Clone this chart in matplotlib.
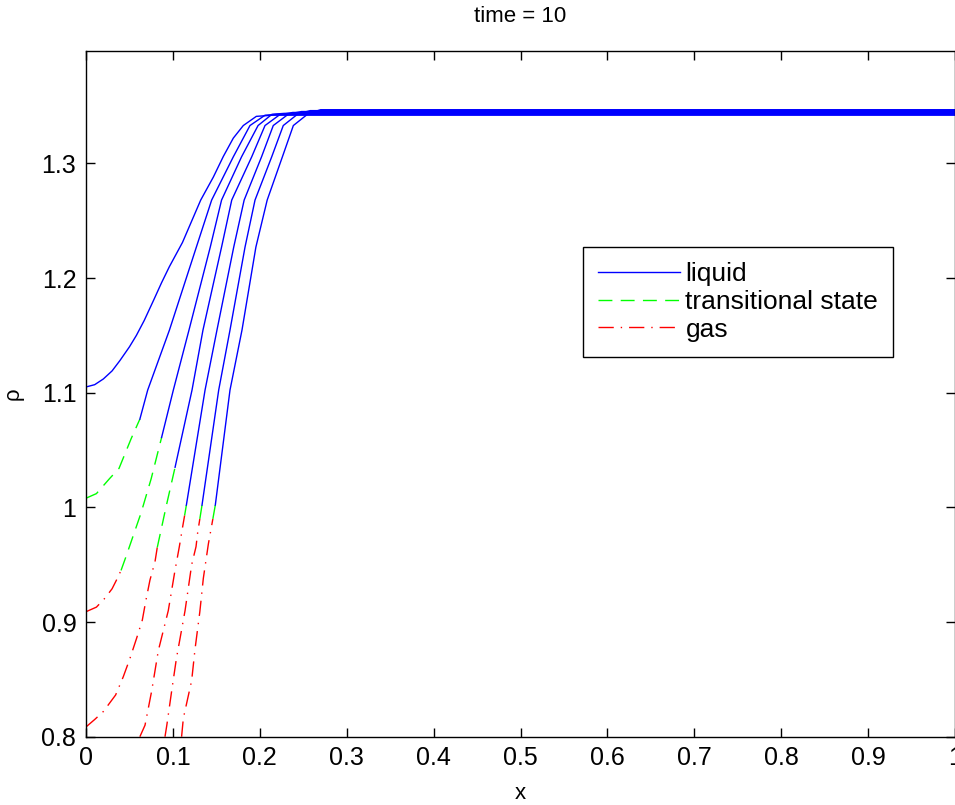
import numpy as np
import matplotlib
matplotlib.use("Agg")
import matplotlib.pyplot as plt
from matplotlib.lines import Line2D

plt.rcParams['font.family'] = ['Liberation Sans', 'DejaVu Sans']

# ---- data (x, rho) ----
# each curve: x, y, index where gas ends, index where transitional ends
c1_x = [0, 0.01, 0.02, 0.03, 0.039, 0.05, 0.058, 0.067, 0.078, 0.087, 0.096, 0.111, 0.132, 0.1465, 0.158, 0.1695, 0.181, 0.196, 0.215, 1.0]
c1_y = [1.105, 1.107, 1.112, 1.119, 1.128, 1.140, 1.150, 1.163, 1.181, 1.196, 1.210, 1.231, 1.268, 1.288, 1.306, 1.322, 1.333, 1.341, 1.342, 1.342]

c2_x = [0, 0.012, 0.027, 0.038, 0.052, 0.062, 0.071, 0.096, 0.127, 0.1446, 0.1695, 0.1887, 0.206, 0.22, 1.0]
c2_y = [1.008, 1.012, 1.025, 1.034, 1.060, 1.077, 1.1023, 1.1546, 1.227, 1.268, 1.3057, 1.333, 1.342, 1.3428, 1.3428]

c3_x = [0, 0.012, 0.022, 0.030, 0.036, 0.0403, 0.046, 0.0633, 0.075, 0.087, 0.1005, 0.1185, 0.143, 0.156, 0.179, 0.198, 0.214, 0.228, 1.0]
c3_y = [0.909, 0.913, 0.921, 0.929, 0.938, 0.945, 0.957, 0.995, 1.025, 1.061, 1.1023, 1.1546, 1.227, 1.268, 1.3057, 1.333, 1.3428, 1.3436, 1.3436]

c4_x = [0, 0.01, 0.02, 0.0341, 0.0429, 0.0506, 0.0583, 0.0648, 0.0687, 0.0736, 0.0794, 0.082, 0.092, 0.1025, 0.122, 0.1346, 0.156, 0.1677, 0.1907, 0.206, 0.223, 0.238, 1.0]
c4_y = [0.8085, 0.815, 0.822, 0.8364, 0.8523, 0.8683, 0.886, 0.9017, 0.918, 0.9366, 0.9526, 0.965, 1.000, 1.035, 1.1023, 1.1546, 1.227, 1.268, 1.3057, 1.333, 1.3425, 1.3444, 1.3444]

c5_x = [0.062, 0.0679, 0.0756, 0.0832, 0.0947, 0.1024, 0.1074, 0.1112, 0.1135, 0.1155, 0.137, 0.1507, 0.170, 0.182, 0.202, 0.2155, 0.233, 0.248, 1.0]
c5_y = [0.80, 0.81, 0.84, 0.875, 0.91, 0.945, 0.9657, 0.983, 0.993, 1.002, 1.1023, 1.1546, 1.227, 1.268, 1.3057, 1.333, 1.343, 1.3452, 1.3452]

c6_x = [0.0909, 0.093, 0.0986, 0.104, 0.114, 0.1216, 0.1266, 0.1285, 0.131, 0.1335, 0.1527, 0.1657, 0.183, 0.1945, 0.2137, 0.227, 0.244, 0.258, 1.0]
c6_y = [0.80, 0.81, 0.84, 0.868, 0.91, 0.95, 0.9657, 0.978, 0.99, 1.002, 1.1023, 1.1546, 1.227, 1.268, 1.3057, 1.333, 1.3432, 1.346, 1.346]

c7_x = [0.110, 0.112, 0.1216, 0.1254, 0.131, 0.135, 0.1408, 0.146, 0.1488, 0.1657, 0.1795, 0.1955, 0.2085, 0.226, 0.2386, 0.256, 0.27, 1.0]
c7_y = [0.80, 0.816, 0.849, 0.876, 0.909, 0.938, 0.968, 0.99, 1.002, 1.1023, 1.1546, 1.227, 1.268, 1.3057, 1.333, 1.3435, 1.3468, 1.3468]

gas_end = [0, 0, 5, 11, 8, 8, 7]
trans_end = [0, 5, 9, 13, 9, 9, 8]

labels = ["liquid", "transitional state", "gas"]
x_ticks = [0, 0.1, 0.2, 0.3, 0.4, 0.5, 0.6, 0.7, 0.8, 0.9, 1]
x_ticklabels = ["0", "0.1", "0.2", "0.3", "0.4", "0.5", "0.6", "0.7", "0.8", "0.9", "1"]
y_ticks = [0.8, 0.9, 1.0, 1.1, 1.2, 1.3]
y_ticklabels = ["0.8", "0.9", "1", "1.1", "1.2", "1.3"]

curves = [(c1_x, c1_y), (c2_x, c2_y), (c3_x, c3_y), (c4_x, c4_y),
          (c5_x, c5_y), (c6_x, c6_y), (c7_x, c7_y)]

# ---- styles ----
LW = 1.0
DASH = (0, (10, 6))
DASHDOT = (0, (11, 5, 1, 5))
FS_TICK = 18
FS_LEG = 19
FS_LAB = 16

fig = plt.figure(figsize=(9.55, 8.05), dpi=100)
ax = fig.add_axes([86 / 955, 1 - 736.7 / 805, (955 - 86) / 955, (736.7 - 51) / 805])

for i, (xs, ys) in enumerate(curves):
    xs = np.asarray(xs)
    ys = np.asarray(ys)
    g, t = gas_end[i], trans_end[i]
    if g > 0:
        ax.plot(xs[:g + 1], ys[:g + 1], color='r', lw=LW, linestyle=DASHDOT)
    if t > g:
        ax.plot(xs[g:t + 1], ys[g:t + 1], color='#00ff00', lw=LW, linestyle=DASH)
    ax.plot(xs[t:], ys[t:], color='b', lw=LW, linestyle='-')

ax.set_xlim(0, 1)
ax.set_ylim(0.8, 1.398)
ax.set_xticks(x_ticks)
ax.set_xticklabels(x_ticklabels)
ax.set_yticks(y_ticks)
ax.set_yticklabels(y_ticklabels)
ax.tick_params(direction='in', length=6.5, width=1, top=True, right=True,
               labelsize=FS_TICK, pad=7, colors='black')
for s in ax.spines.values():
    s.set_linewidth(1.0)

ax.set_title("time = 10", fontsize=FS_LAB, pad=21)
ax.set_xlabel("x", fontsize=FS_LAB, labelpad=9)
ax.set_ylabel("\u03c1", fontsize=FS_LAB, labelpad=13)

handles = [Line2D([], [], color='b', lw=LW, linestyle='-'),
           Line2D([], [], color='#00ff00', lw=LW, linestyle=DASH),
           Line2D([], [], color='r', lw=LW, linestyle=DASHDOT)]
leg = ax.legend(handles, labels, loc='upper left',
                bbox_to_anchor=((583 - 86) / 869, (736.7 - 247) / 685.7),
                fontsize=FS_LEG, frameon=True, fancybox=False, shadow=False,
                framealpha=1, edgecolor='black', handlelength=3.1,
                handletextpad=0.2, borderpad=0.58, labelspacing=0.14,
                borderaxespad=0)
leg.get_frame().set_linewidth(1.0)

fig.savefig("out.png", dpi=100)
